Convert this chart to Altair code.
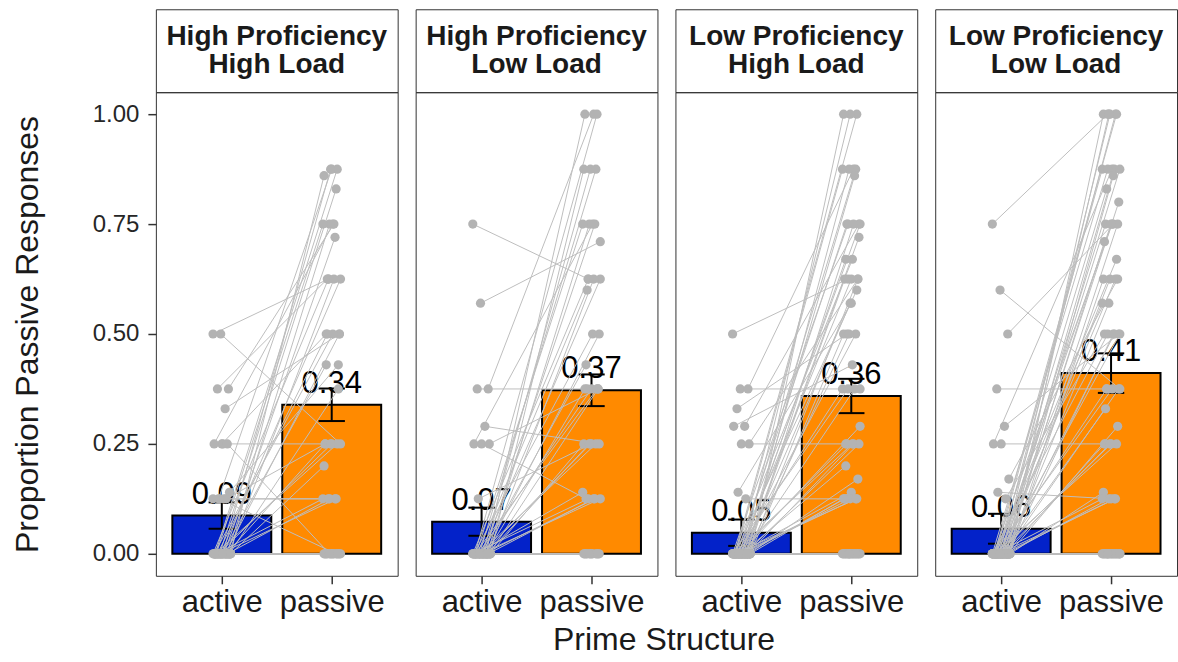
import altair as alt
import pandas as pd

FONT = "Liberation Sans"

panel_labels = ["High Proficiency\nHigh Load", "High Proficiency\nLow Load",
                "Low Proficiency\nHigh Load", "Low Proficiency\nLow Load"]
structures = ["active", "passive"]
structure_pos = [1, 2]

# bar heights (means) and standard errors
mean_active = [0.087, 0.073, 0.048, 0.057]
mean_passive = [0.339, 0.372, 0.359, 0.411]
se_active = [0.030, 0.032, 0.030, 0.034]
se_passive = [0.037, 0.036, 0.039, 0.045]

# participant proportions (active prime, passive prime), paired by index
hh_active = [0.5, 0.5, 0.375, 0.375, 0.33, 0.25, 0.25, 0.14, 0.125, 0.125,
             0, 0, 0, 0, 0, 0, 0, 0, 0, 0,
             0, 0, 0, 0, 0, 0, 0, 0, 0.25, 0,
             0, 0, 0, 0.125, 0.125, 0, 0, 0, 0, 0,
             0, 0, 0, 0, 0, 0, 0, 0.125, 0.25]
hh_passive = [0.625, 0.25, 0.75, 0.625, 0.5, 0.75, 0.5, 0.43, 0.875, 0.25,
              0.875, 0.875, 0.86, 0.83, 0.75, 0.75, 0.72, 0.625, 0.625, 0.625,
              0.5, 0.5, 0.5, 0.43, 0.375, 0.25, 0.25, 0.25, 0.25, 0.2,
              0.125, 0.125, 0.125, 0.125, 0.125, 0, 0, 0, 0, 0,
              0, 0, 0, 0, 0, 0, 0, 0, 0]

hl_active = [0.75, 0.57, 0.375, 0.375, 0.29, 0.25, 0.25, 0.25, 0.125,
             0, 0, 0, 0, 0, 0, 0, 0, 0, 0,
             0, 0, 0, 0, 0, 0, 0, 0, 0, 0,
             0, 0, 0, 0, 0, 0, 0, 0, 0, 0,
             0, 0, 0, 0, 0, 0, 0, 0, 0, 0]
hl_passive = [0.625, 0.71, 1.0, 0.375, 0.25, 0.75, 0.125, 0.375, 0.25,
              1.0, 1.0, 0.875, 0.875, 0.875, 0.75, 0.75, 0.75, 0.625, 0.625,
              0.625, 0.6, 0.5, 0.5, 0.43, 0.375, 0.375, 0.375, 0.375, 0.25,
              0.25, 0.25, 0.25, 0.14, 0.125, 0.125, 0.125, 0.125, 0, 0,
              0, 0, 0, 0, 0, 0, 0, 0, 0, 0]

lh_active = [0.5, 0.375, 0.375, 0.33, 0.29, 0.29, 0.25, 0.25, 0.14, 0.125,
             0, 0, 0, 0, 0, 0, 0, 0, 0, 0,
             0, 0, 0, 0, 0, 0, 0, 0, 0, 0,
             0, 0, 0, 0, 0, 0, 0, 0, 0, 0,
             0, 0, 0, 0, 0, 0, 0, 0, 0, 0,
             0, 0, 0, 0, 0, 0, 0, 0, 0, 0,
             0, 0, 0, 0, 0, 0]
lh_passive = [0.625, 0.375, 0.875, 0.5, 0.75, 0.43, 0.25, 0.625, 0.57, 0.125,
              1.0, 1.0, 1.0, 0.875, 0.875, 0.875, 0.86, 0.75, 0.75, 0.75,
              0.75, 0.72, 0.67, 0.67, 0.625, 0.625, 0.625, 0.6, 0.57, 0.5,
              0.5, 0.5, 0.375, 0.375, 0.375, 0.29, 0.25, 0.25, 0.25, 0.25,
              0.2, 0.17, 0.14, 0.125, 0.125, 0.125, 0.125, 0.125, 0, 0,
              0, 0, 0, 0, 0, 0, 0, 0, 0, 0,
              0, 0, 0, 0, 0, 0]

ll_active = [0.75, 0.6, 0.5, 0.375, 0.29, 0.25, 0.25, 0.17, 0.14, 0.125,
             0, 0, 0, 0, 0, 0, 0, 0, 0, 0,
             0, 0, 0, 0, 0, 0, 0, 0, 0, 0,
             0, 0, 0, 0, 0, 0, 0, 0, 0, 0,
             0, 0, 0, 0, 0, 0, 0, 0, 0, 0,
             0, 0, 0, 0, 0, 0, 0, 0, 0, 0,
             0, 0, 0, 0, 0, 0, 0, 0, 0, 0]
ll_passive = [1.0, 0.375, 0.75, 0.375, 0.5, 0.875, 0.25, 0.625, 0.125, 0.5,
              1.0, 1.0, 1.0, 1.0, 1.0, 0.875, 0.875, 0.875, 0.875, 0.86,
              0.83, 0.8, 0.75, 0.75, 0.75, 0.75, 0.71, 0.67, 0.625, 0.625,
              0.625, 0.57, 0.57, 0.5, 0.5, 0.5, 0.5, 0.375, 0.375, 0.375,
              0.33, 0.29, 0.25, 0.25, 0.25, 0.25, 0.14, 0.125, 0.125, 0.125,
              0.125, 0, 0, 0, 0, 0, 0, 0, 0, 0,
              0, 0, 0, 0, 0, 0, 0, 0, 0, 0]

participants = [(hh_active, hh_passive), (hl_active, hl_passive),
                (lh_active, lh_passive), (ll_active, ll_passive)]

BAR_COLORS = ["#0322C9", "#FF8A00"]
W, H, HEAD = 242, 484, 83


def make_panel(k, first):
    act, pas = participants[k]
    bars = pd.DataFrame({
        "pos": structure_pos,
        "structure": structures,
        "mean": [mean_active[k], mean_passive[k]],
        "se": [se_active[k], se_passive[k]],
        "color": BAR_COLORS,
    })
    bars["x0"] = bars["pos"] - 0.45
    bars["x1"] = bars["pos"] + 0.45
    bars["lo"] = bars["mean"] - bars["se"]
    bars["hi"] = bars["mean"] + bars["se"]
    bars["c0"] = bars["pos"] - 0.12
    bars["c1"] = bars["pos"] + 0.12
    bars["label"] = bars["mean"].map(lambda v: f"{v:.2f}")

    rows = []
    for i, (a, p) in enumerate(zip(act, pas)):
        rows.append({"pid": i, "structure": "active",
                     "pos": 1 + ((i * 7) % 17 - 8) / 100, "value": a})
        rows.append({"pid": i, "structure": "passive",
                     "pos": 2 + ((i * 11 + 5) % 17 - 8) / 100, "value": p})
    pts = pd.DataFrame(rows)

    xscale = alt.Scale(domain=[0.4, 2.6], nice=False, zero=False)
    yscale = alt.Scale(domain=[-0.05, 1.05], nice=False, zero=False)
    xaxis = alt.Axis(values=[1, 2],
                     labelExpr="datum.value == 1 ? 'active' : 'passive'",
                     title=None, labelFontSize=31, labelColor="#1a1a1a",
                     tickSize=8, tickWidth=1.5, tickColor="#333333",
                     labelPadding=4, grid=False, domain=False, labelFont=FONT)
    if first:
        yaxis = alt.Axis(values=[0, 0.25, 0.5, 0.75, 1.0], format=".2f",
                         title="Proportion Passive Responses",
                         titleFontSize=32, titleFontWeight="normal",
                         titleColor="#1a1a1a", titleFont=FONT,
                         titlePadding=48, labelFontSize=24,
                         labelColor="#262626", labelFont=FONT,
                         tickSize=8, tickWidth=1.5, tickColor="#333333",
                         labelPadding=9, grid=False, domain=False)
    else:
        yaxis = None

    def X(f):
        return alt.X(f, type="quantitative", scale=xscale, axis=xaxis)

    def Y(f):
        return alt.Y(f, type="quantitative", scale=yscale, axis=yaxis)

    base_b = alt.Chart(bars)
    bar_layer = base_b.mark_bar(stroke="black", strokeWidth=2).encode(
        x=X("x0"), x2="x1", y=Y("mean"), y2=alt.Y2(datum=0),
        color=alt.Color("color:N", scale=None))
    err = base_b.mark_rule(color="black", strokeWidth=2).encode(
        x=X("pos"), y=Y("lo"), y2="hi")
    cap_lo = base_b.mark_rule(color="black", strokeWidth=2).encode(
        x=X("c0"), x2="c1", y=Y("lo"))
    cap_hi = base_b.mark_rule(color="black", strokeWidth=2).encode(
        x=X("c0"), x2="c1", y=Y("hi"))
    txt = base_b.mark_text(fontSize=31, dy=-12, baseline="alphabetic",
                           color="black", font=FONT).encode(
        x=X("pos"), y=Y("mean"), text="label:N")
    base_p = alt.Chart(pts)
    lines = base_p.mark_line(color="#BEBEBE", strokeWidth=1).encode(
        x=X("pos"), y=Y("value"), detail="pid:N")
    dots = base_p.mark_circle(color="#B3B3B3", size=85, opacity=1).encode(
        x=X("pos"), y=Y("value"))

    plot = alt.layer(bar_layer, err, cap_lo, cap_hi, txt, lines, dots).properties(
        width=W, height=H)

    header = alt.Chart(pd.DataFrame({"label": [panel_labels[k]]})).mark_text(
        fontSize=28, fontWeight="bold", lineBreak="\n", lineHeight=28,
        font=FONT, color="#1a1a1a", baseline="middle", align="center").encode(
        text="label:N", x=alt.value(W / 2), y=alt.value(HEAD / 2 - 14)).properties(
        width=W, height=HEAD)
    return header, plot


headers, plots = [], []
for k in range(4):
    h, p = make_panel(k, k == 0)
    headers.append(h)
    plots.append(p)

chart = alt.concat(*headers, *plots, columns=4,
                   spacing={"row": 0, "column": 18}, bounds="flush").properties(
    title=alt.TitleParams("Prime Structure", orient="bottom", anchor="middle",
                          fontSize=32, fontWeight="normal", font=FONT,
                          color="#1a1a1a", offset=7, dx=70),
    padding={"left": 10, "top": 8, "right": 0, "bottom": 0},
).configure(font=FONT).configure_view(stroke="#333333", strokeWidth=1)

chart.save("out.html", embed_options={"renderer": "svg", "actions": False})
